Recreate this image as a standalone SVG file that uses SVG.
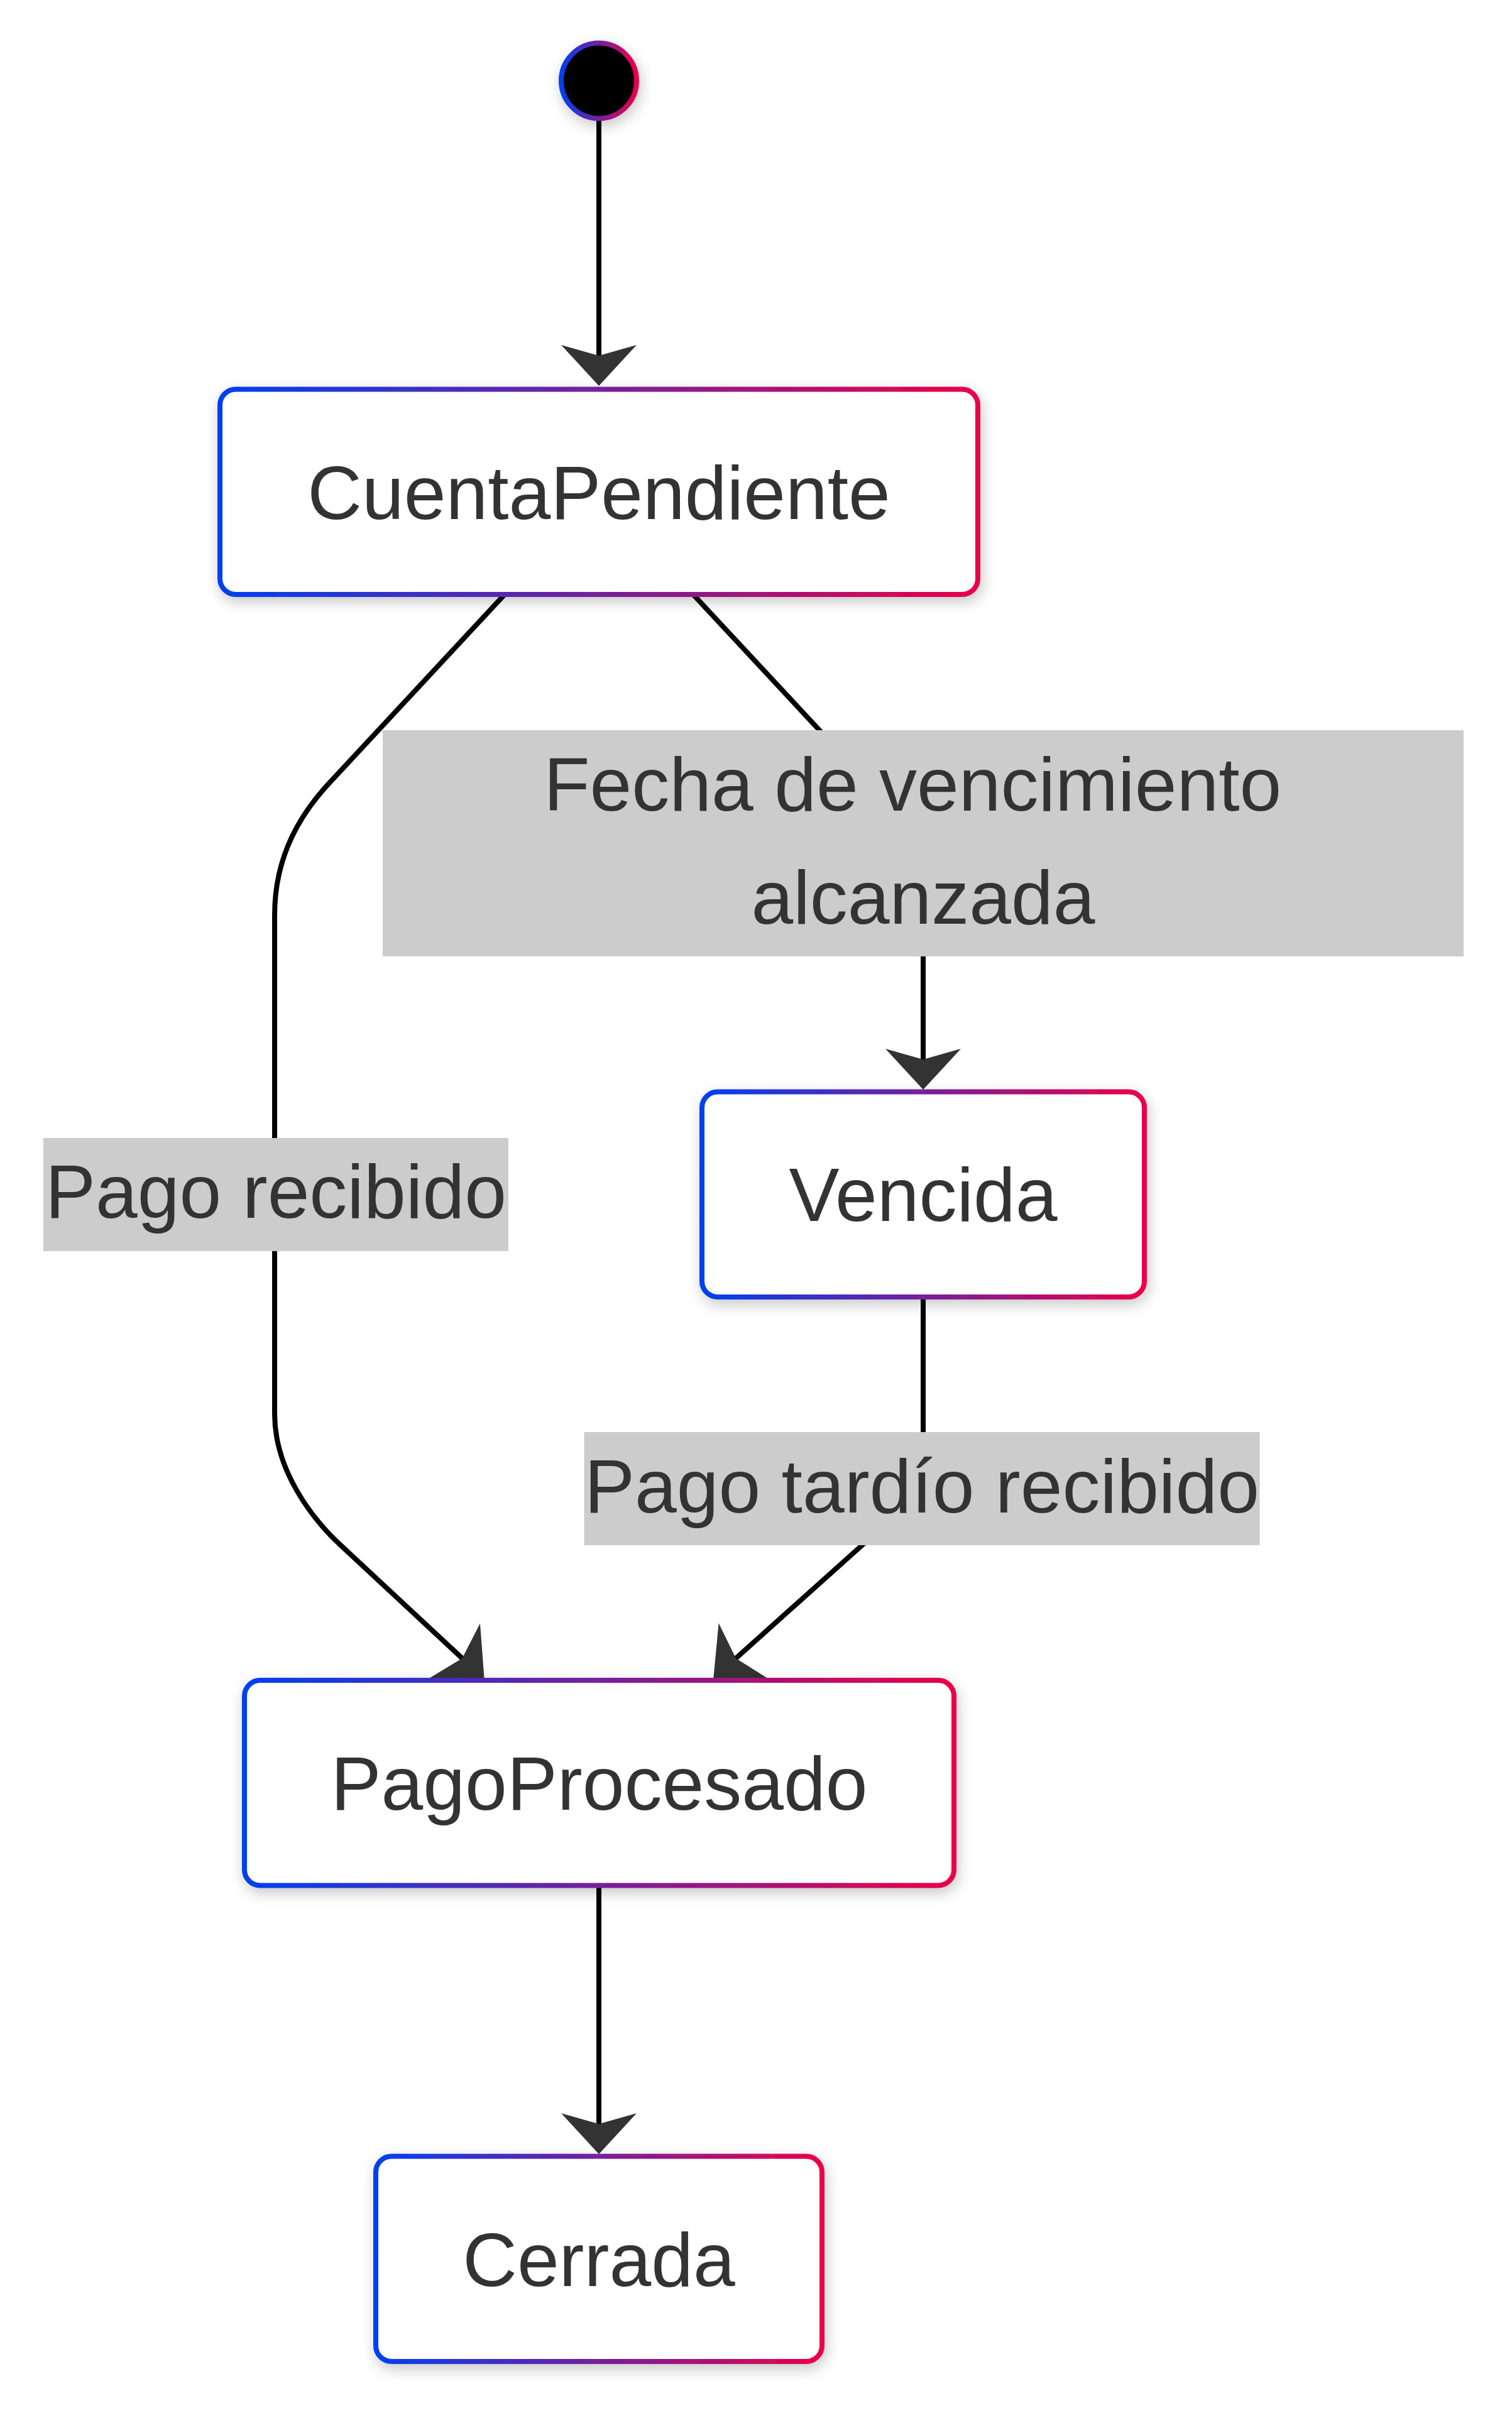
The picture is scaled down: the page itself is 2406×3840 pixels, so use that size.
<svg xmlns="http://www.w3.org/2000/svg" width="2406" height="3840" viewBox="0 0 2406 3840">
<style>
.node rect{fill:#ffffff;stroke:url(#grad);stroke-width:8;filter:url(#shadow)}
.node text,.elabel text{font-family:"Liberation Sans",Arial,sans-serif;font-size:120px;fill:#333333;text-anchor:middle}
.elabel rect{fill:#cccccc}
.edge{fill:none;stroke:#000000;stroke-width:8;marker-end:url(#arrow)}
</style>
<defs>
<linearGradient id="grad" x1="0" y1="0" x2="1" y2="0">
<stop offset="0" stop-color="#0040f0"/>
<stop offset="0.5" stop-color="#75209c"/>
<stop offset="1" stop-color="#ea0048"/>
</linearGradient>
<filter id="shadow" x="-20%" y="-30%" width="140%" height="170%">
<feDropShadow dx="3" dy="8" stdDeviation="11" flood-color="#000000" flood-opacity="0.22"/>
</filter>
<marker id="arrow" markerUnits="userSpaceOnUse" markerWidth="140" markerHeight="140" refX="0" refY="0" orient="auto" overflow="visible">
<path d="M -17 -60 L 48 0 L -17 60 L 0 0 Z" fill="#333333"/>
</marker>
</defs>
<rect x="0" y="0" width="2406" height="3840" fill="#ffffff"/>
<g id="connectors">
<path class="edge" d="M 953 192 L 953 566"/>
<path class="edge" d="M 803 946 L 525 1245 C 480 1293, 437 1360, 437 1456 L 437 2250 C 437 2340, 497 2417, 541 2458 L 735.5 2639"/>
<path class="edge" d="M 1103 946 L 1330 1190 C 1400 1265, 1469 1380, 1469 1480 L 1469 1686"/>
<path class="edge" d="M 1469 2064 L 1469 2260 C 1469 2340, 1474 2366, 1437 2400.6 L 1171 2639"/>
<path class="edge" d="M 953 3000 L 953 3380"/>
</g>
<g id="label-pago-recibido" class="elabel">
<rect x="69" y="1811" width="740" height="180"/>
<text x="439" y="1938">Pago recibido</text>
</g>
<g id="label-fecha" class="elabel">
<rect x="609" y="1162" width="1720" height="360"/>
<text x="1452.3" y="1290">Fecha de vencimiento</text>
<text x="1469" y="1470">alcanzada</text>
</g>
<g id="label-pago-tardio" class="elabel">
<rect x="929.5" y="2279" width="1075" height="180"/>
<text x="1467" y="2407">Pago tardío recibido</text>
</g>
<g id="start">
<circle cx="953" cy="128.5" r="60" fill="#000000" stroke="url(#grad)" stroke-width="8" filter="url(#shadow)"/>
</g>
<g id="CuentaPendiente" class="node">
<rect x="350" y="619.5" width="1206" height="326.5" rx="25" ry="25"/>
<text x="953" y="826">CuentaPendiente</text>
</g>
<g id="Vencida" class="node">
<rect x="1117" y="1737.5" width="704" height="326.5" rx="25" ry="25"/>
<text x="1469" y="1943">Vencida</text>
</g>
<g id="PagoProcesado" class="node">
<rect x="389" y="2674" width="1129" height="326.5" rx="25" ry="25"/>
<text x="953.5" y="2880">PagoProcesado</text>
</g>
<g id="Cerrada" class="node">
<rect x="598" y="3431.5" width="710" height="326.5" rx="25" ry="25"/>
<text x="953" y="3638">Cerrada</text>
</g>
</svg>
